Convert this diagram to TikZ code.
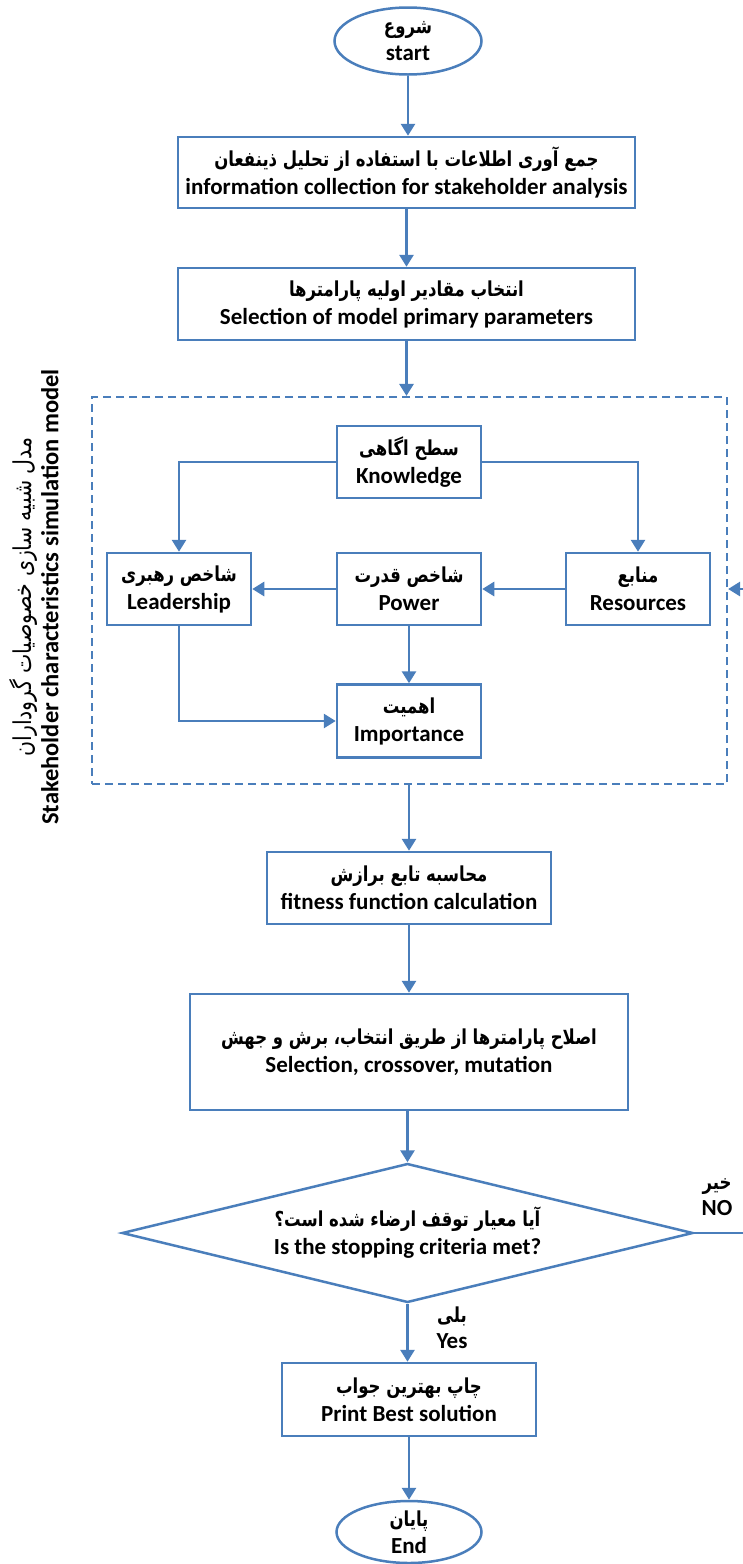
\documentclass[tikz,border=0pt]{standalone}
\usepackage{graphicx}
\usepackage{fontspec}
\setmainfont{Carlito}
\newfontfamily\fa[Script=Arabic]{DejaVu Sans}
\TeXXeTstate=1
\usetikzlibrary{arrows.meta,shapes.geometric,calc}
\definecolor{fb}{HTML}{4A7EBB}
\newcommand{\FA}[1]{\scalebox{1}[1.25]{\fa\bfseries\fontsize{16.5}{18}\selectfont\beginR #1\endR}}
\newcommand{\FAn}[1]{\scalebox{1}[1.2]{\fa\fontsize{20.5}{22}\selectfont\beginR #1\endR}}
\newcommand{\EN}[1]{{\bfseries\fontsize{23}{26}\selectfont #1}}
\newcommand{\ENv}[1]{{\bfseries\fontsize{24.5}{26}\selectfont #1}}
\begin{document}
\begin{tikzpicture}[x=1pt,y=-1pt,
  box/.style={draw=fb, line width=2.5pt, rectangle, align=center, inner sep=0pt,
    font=\fontsize{20}{28}\selectfont},
  oval/.style={draw=fb, line width=2.5pt, ellipse, align=center, inner sep=0pt,
    font=\fontsize{20}{27}\selectfont},
  lab/.style={align=center, inner sep=0pt, font=\fontsize{20}{26}\selectfont},
  conn/.style={draw=fb, line width=2.8pt, -{Triangle[length=12pt,width=14pt]}}]
\useasboundingbox (0,0) rectangle (743,1564);
\clip (0,0) rectangle (743,1564);
\fill[white] (0,0) rectangle (743,1564);

\node[oval, minimum width=147pt, minimum height=67pt] (start) at (408,41) {\FA{شروع}\\\EN{start}};
\node[box, minimum width=457pt, minimum height=71pt] (collect) at (406.5,172.5)
  {\FA{جمع آوری اطلاعات با استفاده از تحلیل ذینفعان}\\\EN{information collection for stakeholder analysis}};
\node[box, minimum width=457pt, minimum height=72pt] (init) at (406.5,304)
  {\FA{انتخاب مقادیر اولیه پارامترها}\\\EN{Selection of model primary parameters}};

\node[draw=fb, line width=2.2pt, dash pattern=on 8pt off 5pt, rectangle, inner sep=0pt,
  minimum width=635pt, minimum height=387pt] (model) at (409.5,590.5) {};

\node[box, minimum width=144pt, minimum height=72pt] (know) at (409,462) {\FA{سطح اگاهی}\\\EN{Knowledge}};
\node[box, minimum width=144pt, minimum height=72pt] (lead) at (179,589) {\FA{شاخص رهبری}\\\EN{Leadership}};
\node[box, minimum width=144pt, minimum height=72pt] (power) at (409,589) {\FA{شاخص قدرت}\\\EN{Power}};
\node[box, minimum width=144pt, minimum height=72pt] (res) at (638,589) {\FA{منابع}\\\EN{Resources}};
\node[box, minimum width=144pt, minimum height=73pt] (imp) at (409,721) {\FA{اهمیت}\\\EN{Importance}};

\node[lab, rotate=90, font=\fontsize{20}{27}\selectfont] (vlab) at (34,597)
  {\FAn{مدل شبیه سازی خصوصیات گروداران}\\\ENv{Stakeholder characteristics simulation model}};

\node[box, minimum width=284pt, minimum height=72pt] (fit) at (409,888)
  {\FA{محاسبه تابع برازش}\\\EN{fitness function calculation}};
\node[box, minimum width=438pt, minimum height=116pt] (sel) at (409,1052)
  {\FA{اصلاح پارامترها از طریق انتخاب، برش و جهش}\\\EN{Selection, crossover, mutation}};
\node[draw=fb, line width=2.5pt, diamond, aspect=4.1, inner sep=0pt, align=center,
  minimum width=571pt, minimum height=139pt, font=\fontsize{20}{28}\selectfont] (dec) at (407.5,1233)
  {\FA{آیا معیار  توقف ارضاء شده است؟}\\\EN{Is the stopping criteria met?}};
\node[box, minimum width=254pt, minimum height=73pt] (print) at (409,1399.5)
  {\FA{چاپ بهترین جواب}\\\EN{Print Best solution}};
\node[oval, minimum width=145pt, minimum height=62pt] (end) at (409,1532) {\FA{پایان}\\\EN{End}};

\node[lab] (nolab) at (717,1197) {\FA{خیر}\\\EN{NO}};
\node[lab] (yeslab) at (452,1328) {\FA{بلی}\\\EN{Yes}};

\coordinate (loopx) at (770,0);

\draw[conn] (start.south) -- (start.south |- collect.north);
\draw[conn] (collect) -- (init);
\draw[conn] (init) -- (model.north -| init);
\draw[conn] (know.west) -| (lead.north);
\draw[conn] (know.east) -| (res.north);
\draw[conn] (res.west) -- (power.east);
\draw[conn] (power.west) -- (lead.east);
\draw[conn] (power.south) -- (imp.north);
\draw[conn] (lead.south) |- (imp.west);
\draw[conn] (model.south -| fit) -- (fit.north);
\draw[conn] (fit) -- (sel);
\draw[conn] (sel.south -| dec.north) -- (dec.north);
\draw[conn] (dec.south) -- (print.north -| dec.south);
\draw[conn] (print) -- (end);
\draw[conn] (dec.east) -- (dec.east -| loopx) |- (model.east |- res.center);
\end{tikzpicture}
\end{document}
